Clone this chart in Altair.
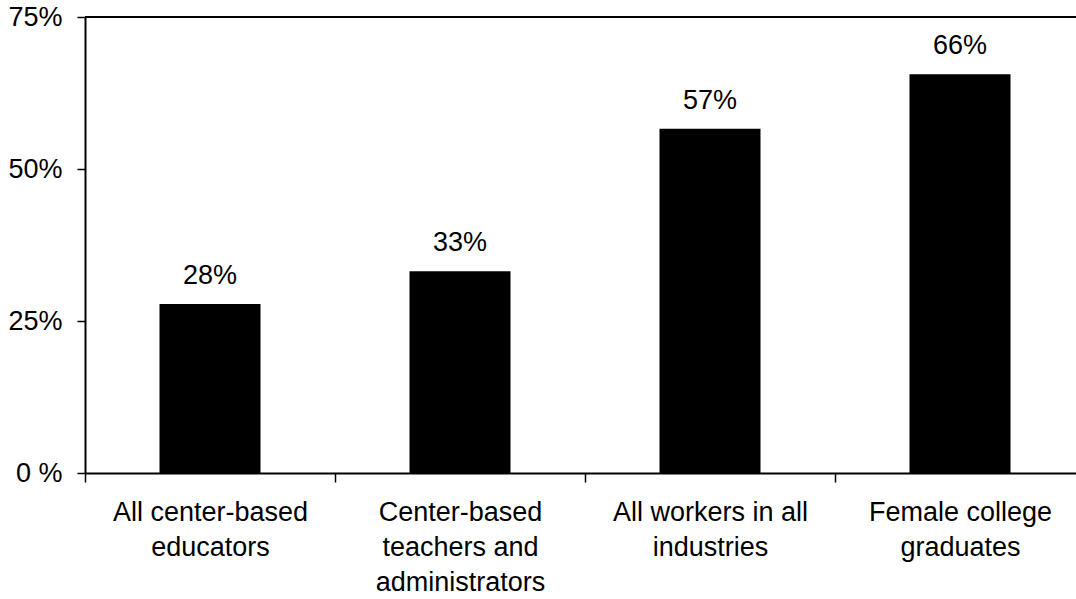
import altair as alt
import pandas as pd

categories = [
    "All center-based|educators",
    "Center-based|teachers and|administrators",
    "All workers in all|industries",
    "Female college|graduates",
]
values = [27.8, 33.2, 56.6, 65.6]
value_labels = ["28%", "33%", "57%", "66%"]
y_ticks = [0, 25, 50, 75]

df = pd.DataFrame({"category": categories, "value": values, "label": value_labels})

FONT = "Liberation Sans"
FS = 27

x = alt.X(
    "category:N",
    sort=None,
    scale=alt.Scale(range=[0, 1000], paddingInner=0, paddingOuter=0),
    axis=alt.Axis(
        title=None,
        labelAngle=0,
        labelExpr="split(datum.label, '|')",
        labelLimit=0,
        tickBand="extent",
        tickSize=9,
        tickWidth=1.5,
        tickColor="black",
        domainColor="black",
        domainWidth=2,
        labelPadding=17,
        labelFont=FONT,
        labelFontSize=FS,
        labelLineHeight=35,
        labelColor="black",
        labelBaseline="top",
    ),
)
y = alt.Y(
    "value:Q",
    scale=alt.Scale(domain=[0, 75], nice=False),
    axis=alt.Axis(
        title=None,
        values=y_ticks,
        grid=False,
        labelExpr="datum.value == 0 ? '0 %' : datum.value + '%'",
        tickSize=8,
        tickWidth=1.5,
        tickColor="black",
        domainColor="black",
        domainWidth=2,
        labelPadding=15,
        labelFont=FONT,
        labelFontSize=FS,
        labelColor="black",
    ),
)

base = alt.Chart(df)
bars = base.mark_bar(width=101, color="black").encode(x=x, y=y)
text = base.mark_text(baseline="bottom", dy=-14, font=FONT, fontSize=FS, color="black").encode(
    x=x, y=y, text="label:N"
)
topline = base.mark_rule(color="black", strokeWidth=2).encode(
    y=alt.value(0), x=alt.value(0), x2=alt.value(991)
)

chart = (
    alt.layer(bars, text, topline)
    .properties(
        width=991,
        height=456,
        padding={"left": 85, "top": 17, "right": 0, "bottom": 126},
        autosize=alt.AutoSizeParams(type="none"),
        background="white",
    )
    .configure_view(stroke=None)
)

chart.save("out.html", embed_options={"renderer": "svg", "actions": False})
